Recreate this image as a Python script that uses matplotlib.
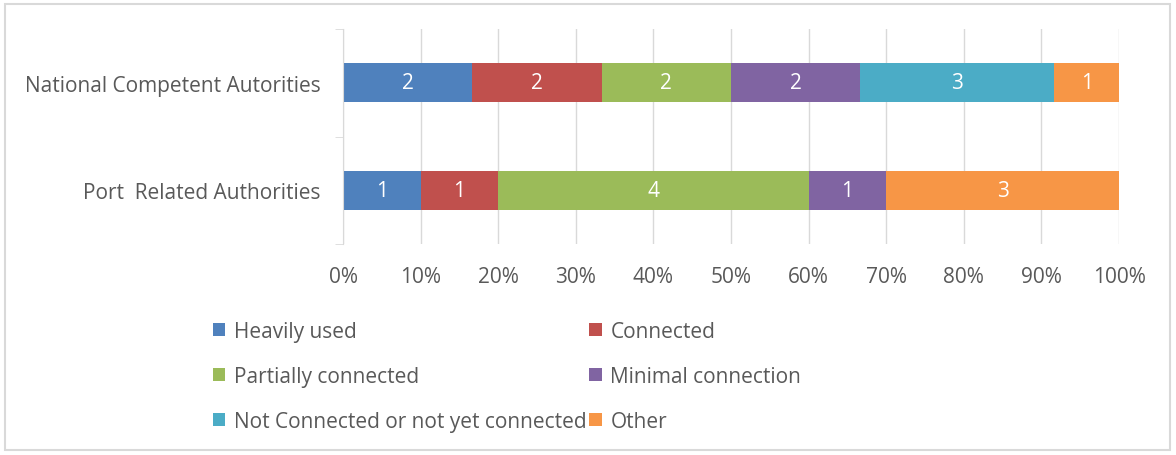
import numpy as np
import matplotlib.pyplot as plt
from matplotlib.patches import Rectangle
from matplotlib.ticker import FuncFormatter

plt.rcParams['font.family'] = ['Open Sans', 'DejaVu Sans']

categories = ['National Competent Autorities', 'Port  Related Authorities']
series_names = ['Heavily used', 'Connected', 'Partially connected',
                'Minimal connection', 'Not Connected or not yet connected', 'Other']
# counts per category (same order as categories)
heavily_used = [2, 1]
connected = [2, 1]
partially_connected = [2, 4]
minimal_connection = [2, 1]
not_connected = [3, 0]
other = [1, 3]
colors = ['#4F81BD', '#C0504D', '#9BBB59', '#8064A2', '#4BACC6', '#F79646']

counts = np.array([heavily_used, connected, partially_connected,
                   minimal_connection, not_connected, other], dtype=float)
totals = counts.sum(axis=0)
shares = counts / totals

text_col = '#595959'
fs = 15
fig = plt.figure(figsize=(11.76, 4.56), dpi=100)
fig.patches.append(Rectangle((0.004, 0.012), 0.991, 0.978, transform=fig.transFigure,
                             fill=False, edgecolor='#D9D9D9', linewidth=1.5))
ax = fig.add_axes([0.2917, 0.4627, 0.6599, 0.4715])

ypos = np.array([1, 0])
left = np.zeros(len(categories))
bars = []
for i, name in enumerate(series_names):
    b = ax.barh(ypos, shares[i], left=left, height=0.36, color=colors[i],
                label=name, zorder=3)
    for j in range(len(categories)):
        if counts[i, j] > 0:
            ax.text(left[j] + shares[i, j] / 2, ypos[j], f'{int(counts[i, j])}',
                    ha='center', va='center', color='white', fontsize=fs, zorder=4)
    left += shares[i]
    bars.append(b)

ax.set_xlim(0, 1)
ax.set_ylim(-0.5, 1.5)
ax.set_xticks(np.arange(0, 1.01, 0.1))
ax.xaxis.set_major_formatter(FuncFormatter(lambda v, p: f'{v * 100:.0f}%'))
ax.set_yticks(ypos)
ax.set_yticklabels(categories)
ax.set_yticks([-0.5, 0.5, 1.5], minor=True)
ax.tick_params(axis='y', which='major', length=0, pad=16, labelsize=fs, labelcolor=text_col)
ax.tick_params(axis='y', which='minor', length=6, color='#D9D9D9', direction='out')
ax.tick_params(axis='x', length=0, pad=16, labelsize=fs, labelcolor=text_col)
ax.grid(axis='x', color='#D9D9D9', linewidth=1, zorder=0)
for s in ['top', 'right', 'bottom']:
    ax.spines[s].set_visible(False)
ax.spines['left'].set_color('#D9D9D9')
ax.spines['left'].set_zorder(5)

order = [0, 2, 4, 1, 3, 5]
handles = [bars[k] for k in order]
labels = [series_names[k] for k in order]
fig.legend(handles, labels, ncol=2, loc='upper left', bbox_to_anchor=(0.181, 0.294),
           frameon=False, fontsize=fs, labelcolor=text_col, handlelength=0.6,
           handleheight=0.6, handletextpad=0.4, columnspacing=0.15, labelspacing=1.15,
           borderaxespad=0, borderpad=0)

fig.savefig('out.png', dpi=100)
